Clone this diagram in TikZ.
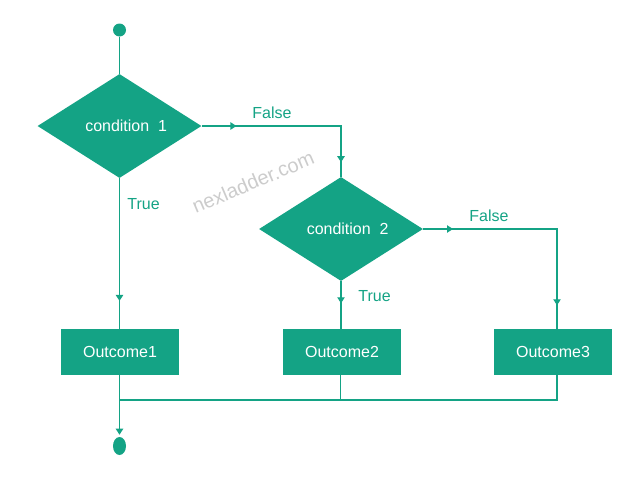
\documentclass[tikz,border=0pt]{standalone}
\usepackage{fontspec}
\setmainfont{Liberation Sans}
\usetikzlibrary{arrows.meta,shapes.geometric,decorations.markings}
\definecolor{flowgreen}{RGB}{20,163,133}
\begin{document}
\begin{tikzpicture}[x=0.75pt,y=-0.75pt,>={Triangle[length=4.5pt,width=5.5pt]},
  flow/.style={draw=flowgreen,line width=1pt},
  tip at/.style={postaction={decorate,decoration={markings,mark=at position #1 with {\arrow{>}}}}},
  font=\fontsize{12pt}{14pt}\selectfont]
  \tikzset{decision/.style={diamond,fill=flowgreen,text=white,inner sep=0pt,aspect=1.6,minimum width=123pt,minimum height=78pt},
    outcome/.style={rectangle,fill=flowgreen,text=white,minimum width=88.5pt,minimum height=34.5pt},
    answer/.style={text=flowgreen,inner sep=0pt}}
  \useasboundingbox (0,0) rectangle (641,482);
  \node[rotate=23,text=black!20,font=\fontsize{15pt}{18pt}\selectfont] (mark) at (253,182) {nexladder.com};
  \node[circle,fill=flowgreen,minimum size=9.75pt,inner sep=0pt] (start) at (119.5,30) {};
  \node[decision] (c1) at (119.5,126) {\hspace*{10pt}condition\ \ 1};
  \node[decision] (c2) at (341,229) {\hspace*{10pt}condition\ \ 2};
  \node[outcome] (o1) at (120,352) {Outcome1};
  \node[outcome] (o2) at (342,352) {Outcome2};
  \node[outcome] (o3) at (553,352) {Outcome3};
  \node[ellipse,fill=flowgreen,minimum width=9.75pt,minimum height=13.5pt,inner sep=0pt] (stop) at (119.5,446) {};
  \coordinate (merge) at (119.5,400);
  \node[answer] (f1) at (272,112.5) {False};
  \node[answer] (t1) at (143.5,204.5) {True};
  \node[answer] (t2) at (374.5,296) {True};
  \node[answer] (f2) at (489,216) {False};
  \draw[flow] (start) -- (c1);
  \draw[flow,tip at=26pt,tip at=131.6pt] (c1) -| (c2);
  \draw[flow,tip at=92pt] (c1.south) -- (c1.south |- o1.north);
  \draw[flow,tip at=16.5pt] (c2.south) -- (c2.south |- o2.north);
  \draw[flow,tip at=22.3pt,tip at=157.5pt] (c2) -| ([xshift=3pt]o3.north);
  \draw[flow] ([xshift=-1pt]o2.south) |- (merge);
  \draw[flow] ([xshift=3pt]o3.south) |- (merge);
  \draw[flow,->,shorten >=1.5pt] (o1.south -| stop) -- (stop);
\end{tikzpicture}
\end{document}
